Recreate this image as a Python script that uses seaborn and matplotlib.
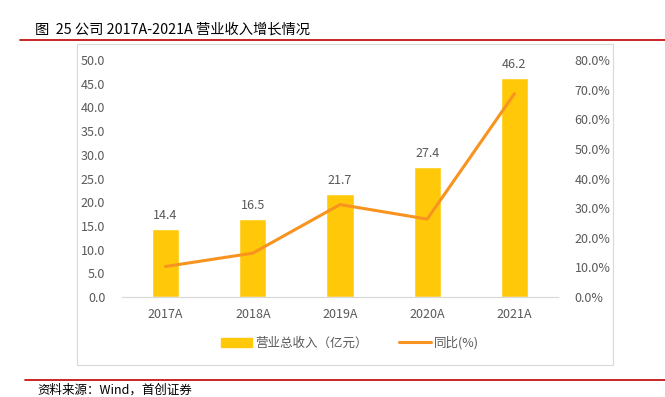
import matplotlib
matplotlib.use("Agg")
import matplotlib.pyplot as plt
import matplotlib.patches as mpatches
from matplotlib.lines import Line2D
from matplotlib.ticker import FuncFormatter, MultipleLocator
import seaborn as sns
import pandas as pd

# data
years = ["2017A", "2018A", "2019A", "2020A", "2021A"]
revenue = [14.4, 16.5, 21.7, 27.4, 46.2]          # 亿元
growth = [10.3, 14.8, 31.2, 26.3, 68.6]            # %

sns.set_style("white")
plt.rcParams["font.family"] = ["Noto Sans CJK SC", "DejaVu Sans"]

BAR = "#FFC90A"
LINE = "#F7931E"
GREY = "#595959"

df = pd.DataFrame({"year": years, "revenue": revenue, "growth": growth})

fig = plt.figure(figsize=(6.65, 3.97), dpi=100)
W, H = 665, 397

# title, rules and frame
fig.text(35 / W, 1 - 30 / H, "图  25 公司 2017A-2021A 营业收入增长情况", fontsize=10.3,
         color="black", va="center", ha="left")
fig.add_artist(Line2D([20 / W, 1], [1 - 40 / H] * 2, color="#C00000", lw=1.2))
fig.add_artist(Line2D([25 / W, 1], [1 - 380 / H] * 2, color="#C00000", lw=1.2))
fig.add_artist(mpatches.Rectangle((77 / W, 1 - 365 / H), (613 - 77) / W, (365 - 44) / H,
                                  fill=False, edgecolor="#D9D9D9", lw=0.8))
fig.text(37 / W, 1 - 390 / H, "资料来源：Wind，首创证券", fontsize=9, style="italic",
         color="black", va="center", ha="left")

ax = fig.add_axes([122 / W, 1 - 297 / H, 436 / W, 237 / H])
sns.barplot(data=df, x="year", y="revenue", color=BAR, width=0.31, saturation=1, ax=ax)
ax.set_ylim(0, 50)
ax.set_xlim(-0.5, 4.5)
ax.yaxis.set_major_locator(MultipleLocator(5))
ax.yaxis.set_major_formatter(FuncFormatter(lambda v, p: f"{v:.1f}"))
for i, v in enumerate(revenue):
    ax.annotate(f"{v:.1f}", (i, v), xytext=(0, 5), textcoords="offset points",
                ha="center", va="bottom", fontsize=9, color=GREY)

ax2 = ax.twinx()
sns.lineplot(data=df, x="year", y="growth", color=LINE, lw=2.2, sort=False, ax=ax2)
ax2.set_ylim(0, 80)
ax2.yaxis.set_major_locator(MultipleLocator(10))
ax2.yaxis.set_major_formatter(FuncFormatter(lambda v, p: f"{v:.1f}%"))

for a in (ax, ax2):
    a.set_xlabel("")
    a.set_ylabel("")
    for s in ("top", "left", "right"):
        a.spines[s].set_visible(False)
    a.spines["bottom"].set_color("#D9D9D9")
    a.tick_params(length=0, labelsize=9, labelcolor=GREY)
ax.tick_params(axis="y", pad=12)
ax.tick_params(axis="x", pad=8)
ax2.tick_params(axis="y", pad=12)

handles = [mpatches.Patch(color=BAR), Line2D([0], [0], color=LINE, lw=2.2)]
fig.legend(handles, ["营业总收入（亿元）", "同比(%)"], loc="center",
           bbox_to_anchor=(350 / W, 1 - 343 / H), ncol=2, frameon=False,
           fontsize=9, labelcolor=GREY, handlelength=2.5, handleheight=0.7,
           columnspacing=2.5, handletextpad=0.3)

fig.savefig("out.png", dpi=100)
